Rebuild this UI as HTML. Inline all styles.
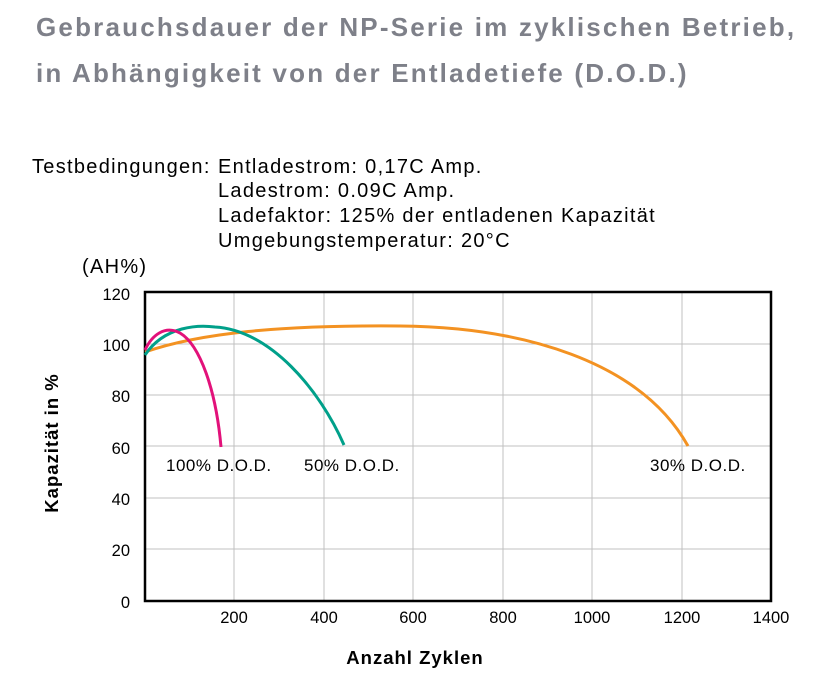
<!DOCTYPE html>
<html><head><meta charset="utf-8"><style>
body{margin:0;width:830px;height:676px;background:#fff;overflow:hidden;font-family:"Liberation Sans",sans-serif;}
.t{position:absolute;left:36px;color:#7e8089;font-weight:bold;font-size:26px;letter-spacing:2.2px;white-space:nowrap;}
.c{position:absolute;font-size:20px;letter-spacing:1.3px;color:#000;white-space:nowrap;}
</style></head><body>
<div class="t" style="top:12px">Gebrauchsdauer der NP-Serie im zyklischen Betrieb,</div>
<div class="t" style="top:58px">in Abhängigkeit von der Entladetiefe (D.O.D.)</div>
<div class="c" style="left:32px;top:156px">Testbedingungen:</div>
<div class="c" style="left:218px;top:156px">Entladestrom: 0,17C Amp.</div>
<div class="c" style="left:218px;top:180px">Ladestrom: 0.09C Amp.</div>
<div class="c" style="left:218px;top:205px">Ladefaktor: 125% der entladenen Kapazität</div>
<div class="c" style="left:218px;top:230px">Umgebungstemperatur: 20°C</div>
<div class="c" style="left:82px;top:256px">(AH%)</div>
<svg width="830" height="676" style="position:absolute;left:0;top:0" font-family="Liberation Sans, sans-serif">
<g stroke="#c0c0c0" stroke-width="1">
<line x1="234" y1="292" x2="234" y2="601"/><line x1="324" y1="292" x2="324" y2="601"/>
<line x1="413" y1="292" x2="413" y2="601"/><line x1="503" y1="292" x2="503" y2="601"/>
<line x1="592" y1="292" x2="592" y2="601"/><line x1="682" y1="292" x2="682" y2="601"/>
<line x1="145" y1="344" x2="771" y2="344"/><line x1="145" y1="395" x2="771" y2="395"/>
<line x1="145" y1="446" x2="771" y2="446"/><line x1="145" y1="498" x2="771" y2="498"/>
<line x1="145" y1="549" x2="771" y2="549"/>
</g>
<rect x="145" y="292" width="626" height="309" fill="none" stroke="#000" stroke-width="2.5"/>
<g fill="none" stroke-width="3">
<path d="M145,352 C200,333 280,325 400,326 C520,327 640,360 688,446" stroke="#f39222"/>
<path d="M145,355 C165,325 200,325 215,327 C270,330 320,390 344,445" stroke="#00a08a"/>
<path d="M145,350 C152,335 165,325 180,333 C200,345 216,390 221,447" stroke="#e2117a"/>
</g>
<g font-size="16.5" text-anchor="end">
<text x="130" y="300">120</text><text x="130" y="351">100</text><text x="130" y="402">80</text>
<text x="130" y="454">60</text><text x="130" y="505">40</text><text x="130" y="556">20</text><text x="130" y="608">0</text>
</g>
<g font-size="16.5" text-anchor="middle">
<text x="234" y="623">200</text><text x="324" y="623">400</text><text x="413" y="623">600</text>
<text x="503" y="623">800</text><text x="592" y="623">1000</text><text x="682" y="623">1200</text><text x="771" y="623">1400</text>
</g>
<g font-size="17" letter-spacing="0.5">
<text x="166" y="471">100% D.O.D.</text><text x="304" y="471">50% D.O.D.</text><text x="650" y="471">30% D.O.D.</text>
</g>
<text x="415" y="664" font-size="18.5" letter-spacing="1" font-weight="bold" text-anchor="middle">Anzahl Zyklen</text>
<text transform="translate(58,443) rotate(-90)" font-size="18.5" letter-spacing="1" font-weight="bold" text-anchor="middle">Kapazität in %</text>
</svg>
</body></html>
